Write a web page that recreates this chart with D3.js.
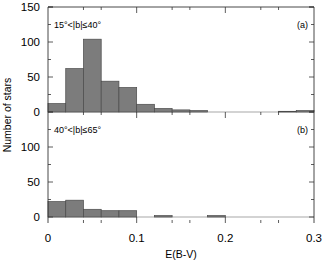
<!DOCTYPE html>
<html>
<head>
<meta charset="utf-8">
<script src="https://cdn.jsdelivr.net/npm/d3@7"></script>
<style>
  body { margin: 0; background: #fff; }
  text { font-family: "Liberation Sans", Arial, sans-serif; fill: #000; }
</style>
</head>
<body>
<div id="chart"></div>
<script>
// bin edges of E(B-V), width 0.02
var binStarts = [0, 0.02, 0.04, 0.06, 0.08, 0.10, 0.12, 0.14, 0.16, 0.18, 0.20, 0.22, 0.24, 0.26, 0.28];
var binWidth = 0.02;
// counts, panel (a) 15 < |b| <= 40
var countsA = [12, 62, 104, 44, 35, 11, 5, 3, 2, 0, 0, 0, 0, 1, 2];
// counts, panel (b) 40 < |b| <= 65
var countsB = [22, 24, 11, 9, 9, 0, 2, 0, 0, 2, 0, 0, 0, 0, 0];

var panelLabels = ["15\u00b0<|b|\u226440\u00b0", "40\u00b0<|b|\u226465\u00b0"];
var panelTags = ["(a)", "(b)"];
var xTicks = [0, 0.1, 0.2, 0.3];
var xMinor = [0.04, 0.06, 0.14, 0.16, 0.24, 0.26];
var yTicksA = [0, 50, 100, 150];
var yTicksB = [0, 50, 100];
var yMinor = [25, 75, 125];

var W = 323, H = 261;
var svg = d3.select("#chart").append("svg")
  .attr("width", W).attr("height", H);

var x = d3.scaleLinear().domain([0, 0.3]).range([48, 314]);

// two stacked panels, each 0..150
var yA = d3.scaleLinear().domain([0, 150]).range([112, 7]);
var yB = d3.scaleLinear().domain([0, 150]).range([217, 112]);
var frameBottom = 223;

function drawPanel(y, counts, label, tag, yTicks) {
  var g = svg.append("g");

  // zero line
  g.append("line")
    .attr("x1", x(0)).attr("x2", x(0.3))
    .attr("y1", y(0)).attr("y2", y(0))
    .attr("stroke", "#c4c4c4").attr("stroke-width", 1.5);

  g.selectAll("rect.bar")
    .data(binStarts.map(function(d, i) { return {x0: d, v: counts[i]}; })
      .filter(function(d) { return d.v > 0; }))
    .enter().append("rect")
    .attr("class", "bar")
    .attr("x", function(d) { return x(d.x0); })
    .attr("width", function(d) { return x(d.x0 + binWidth) - x(d.x0); })
    .attr("y", function(d) { return y(d.v); })
    .attr("height", function(d) { return y(0) - y(d.v); })
    .attr("fill", "#7c7c7c")
    .attr("stroke", "#4a4a4a")
    .attr("stroke-width", 0.7);

  // left axis labels
  g.selectAll("text.yl")
    .data(yTicks)
    .enter().append("text")
    .attr("class", "yl")
    .attr("x", 40)
    .attr("y", function(d) { return y(d) + 4; })
    .attr("text-anchor", "end")
    .style("font-size", "11.5px")
    .text(function(d) { return d; });

  // ticks on both sides, pointing inward
  var all = yTicks.concat([150]).map(function(d) { return {v: d, len: 5}; })
    .concat(yMinor.map(function(d) { return {v: d, len: 3}; }));
  g.selectAll("line.yt")
    .data(all)
    .enter().append("line")
    .attr("x1", x(0)).attr("x2", function(d) { return x(0) + d.len; })
    .attr("y1", function(d) { return y(d.v); })
    .attr("y2", function(d) { return y(d.v); })
    .attr("stroke", "#333").attr("stroke-width", 0.8);
  g.selectAll("line.yr")
    .data(all)
    .enter().append("line")
    .attr("x1", x(0.3)).attr("x2", function(d) { return x(0.3) - d.len; })
    .attr("y1", function(d) { return y(d.v); })
    .attr("y2", function(d) { return y(d.v); })
    .attr("stroke", "#333").attr("stroke-width", 0.8);

  g.append("text")
    .attr("x", 54).attr("y", y(125) + 3)
    .style("font-size", "9px")
    .text(label);
  g.append("text")
    .attr("x", 308).attr("y", y(125) + 3)
    .attr("text-anchor", "end")
    .style("font-size", "9px")
    .text(tag);
}

drawPanel(yA, countsA, panelLabels[0], panelTags[0], yTicksA);
drawPanel(yB, countsB, panelLabels[1], panelTags[1], yTicksB);

// frame: left, right, top
svg.append("line").attr("x1", x(0)).attr("x2", x(0))
  .attr("y1", yA(150)).attr("y2", frameBottom)
  .attr("stroke", "#333").attr("stroke-width", 0.9);
svg.append("line").attr("x1", x(0.3)).attr("x2", x(0.3))
  .attr("y1", yA(150)).attr("y2", frameBottom)
  .attr("stroke", "#333").attr("stroke-width", 0.9);
svg.append("line").attr("x1", x(0)).attr("x2", x(0.3))
  .attr("y1", yA(150)).attr("y2", yA(150))
  .attr("stroke", "#333").attr("stroke-width", 0.9);

// x ticks: top of panel (a), panel boundary, bottom
var xt = xTicks.slice(1, 3).map(function(d) { return {v: d, len: 6}; })
  .concat(xMinor.map(function(d) { return {v: d, len: 3}; }));
[[yA(150), 1], [yB(150), 1], [frameBottom, -1]].forEach(function(p) {
  svg.append("g").selectAll("line")
    .data(xt)
    .enter().append("line")
    .attr("x1", function(d) { return x(d.v); })
    .attr("x2", function(d) { return x(d.v); })
    .attr("y1", p[0])
    .attr("y2", function(d) { return p[0] + p[1] * d.len; })
    .attr("stroke", "#333").attr("stroke-width", 0.8);
});

svg.append("g").selectAll("text")
  .data(xTicks)
  .enter().append("text")
  .attr("x", function(d) { return x(d); })
  .attr("y", 242)
  .attr("text-anchor", "middle")
  .style("font-size", "11.5px")
  .text(function(d) { return d; });

svg.append("text")
  .attr("x", 181).attr("y", 258)
  .attr("text-anchor", "middle")
  .style("font-size", "10.5px")
  .text("E(B-V)");

svg.append("text")
  .attr("transform", "translate(11,115) rotate(-90)")
  .attr("text-anchor", "middle")
  .style("font-size", "10.5px")
  .text("Number of stars");
</script>
</body>
</html>
